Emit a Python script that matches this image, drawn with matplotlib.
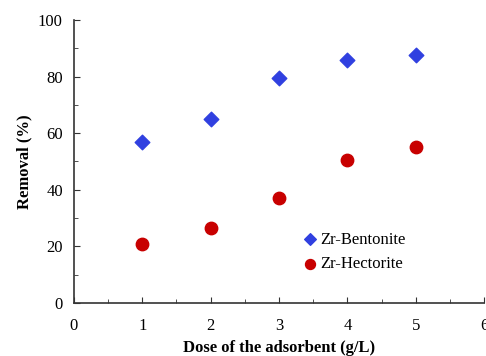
import matplotlib
matplotlib.use('Agg')
import matplotlib.pyplot as plt
from matplotlib.ticker import MultipleLocator

plt.rcParams['font.family'] = ['Liberation Serif', 'DejaVu Serif']

dose = [1, 2, 3, 4, 5]
bentonite = [57, 65, 79.5, 86, 87.5]
hectorite = [21, 26.5, 37, 50.5, 55]

fig = plt.figure(figsize=(4.86, 3.56), dpi=100)
ax = fig.add_axes([0.152, 0.149, 0.844, 0.795])

ax.scatter(dose, bentonite, marker='D', s=55, color='#3040e0', label='Zr-Bentonite', zorder=3)
ax.scatter(dose, hectorite, marker='o', s=80, color='#c80000', label='Zr-Hectorite', zorder=3)

ax.set_xlim(0, 6)
ax.set_ylim(0, 100)
ax.xaxis.set_major_locator(MultipleLocator(1))
ax.xaxis.set_minor_locator(MultipleLocator(0.5))
ax.yaxis.set_major_locator(MultipleLocator(20))
ax.yaxis.set_minor_locator(MultipleLocator(10))
ax.tick_params(which='both', direction='in', labelsize=12, color='#333333')
ax.tick_params(which='major', length=4)
ax.tick_params(which='minor', length=3)
ax.tick_params(axis='x', pad=11)
ax.tick_params(axis='y', pad=8)

for s in ['top', 'right']:
    ax.spines[s].set_visible(False)
for s in ['left', 'bottom']:
    ax.spines[s].set_color('#333333')
    ax.spines[s].set_linewidth(1.2)

ax.set_xlabel('Dose of the adsorbent (g/L)', fontsize=12, fontweight='bold', labelpad=4)
ax.set_ylabel('Removal (%)', fontsize=12, fontweight='bold', labelpad=4)

ax.legend(loc='lower left', bbox_to_anchor=(0.54, 0.08), frameon=False, fontsize=12,
          handlelength=0.8, handletextpad=0.2, labelspacing=0.5, markerscale=0.8, borderpad=0)

fig.savefig('out.png', dpi=100)
